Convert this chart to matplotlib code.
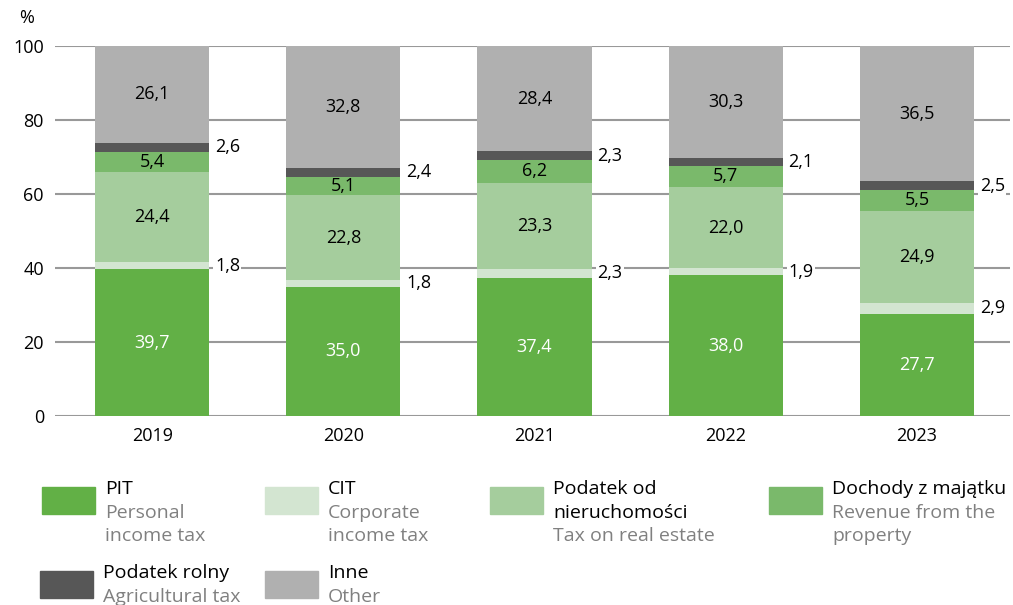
import matplotlib.pyplot as plt
from matplotlib.patches import Rectangle

plt.rcParams['font.family'] = ['Open Sans', 'DejaVu Sans']

years = ["2019", "2020", "2021", "2022", "2023"]
pit = [39.7, 35.0, 37.4, 38.0, 27.7]
cit = [1.8, 1.8, 2.3, 1.9, 2.9]
nieruch = [24.4, 22.8, 23.3, 22.0, 24.9]
majatek = [5.4, 5.1, 6.2, 5.7, 5.5]
rolny = [2.6, 2.4, 2.3, 2.1, 2.5]
inne = [26.1, 32.8, 28.4, 30.3, 36.5]

series = [pit, cit, nieruch, majatek, rolny, inne]
colors = ["#62b046", "#d3e5d1", "#a5cd9d", "#7ab96b", "#575757", "#b0b0b0"]
# where to put the value: inside (text colour) or outside right
inside = [True, False, True, True, False, True]
txtcol = ["white", None, "black", "black", None, "black"]

fig = plt.figure(figsize=(10.13, 6.05), dpi=100)
ax = fig.add_axes([55 / 1013, (605 - 416) / 605, 955 / 1013, 370 / 605])

x = list(range(len(years)))
w = 0.597
bottom = [0.0] * len(years)
for k, vals in enumerate(series):
    ax.bar(x, vals, w, bottom=bottom, color=colors[k], zorder=2)
    for i, v in enumerate(vals):
        mid = bottom[i] + v / 2
        lab = f"{v:.1f}".replace(".", ",")
        if inside[k]:
            ax.text(x[i], mid, lab, ha="center", va="center", fontsize=13,
                    color=txtcol[k], zorder=3)
        else:
            ax.text(x[i] + w / 2 + 0.03, mid, lab, ha="left", va="center",
                    fontsize=13, color="black", zorder=3,
                    bbox=dict(facecolor="white", edgecolor="none", pad=1))
    bottom = [b + v for b, v in zip(bottom, vals)]

ax.set_xlim(-0.508, 4.487)
ax.set_ylim(0, 100)
ax.set_yticks(range(0, 101, 20))
ax.set_xticks(x)
ax.set_xticklabels(years)
ax.tick_params(length=0, labelsize=13, pad=8)
ax.yaxis.grid(True, color="#999999", linewidth=1.5, zorder=0)
ax.set_axisbelow(True)
for s in ax.spines.values():
    s.set_visible(False)
fig.text(27 / 1013, 1 - 18 / 605, "%", fontsize=13, ha="center", va="center")

# legend
legend = [
    (42, 487, ["PIT"], ["Personal", "income tax"]),
    (265, 487, ["CIT"], ["Corporate", "income tax"]),
    (490, 487, ["Podatek od", "nieruchomości"], ["Tax on real estate"]),
    (769, 487, ["Dochody z majątku"], ["Revenue from the", "property"]),
    (40, 571, ["Podatek rolny"], ["Agricultural tax"]),
    (265, 571, ["Inne"], ["Other"]),
]
for k, (lx, ly, pl, en) in enumerate(legend):
    fig.patches.append(Rectangle((lx / 1013, 1 - (ly + 27) / 605), 53 / 1013, 27 / 605,
                                 transform=fig.transFigure, color=colors[k]))
    tx = (lx + 63) / 1013
    lines = [(t, "black") for t in pl] + [(t, "#808080") for t in en]
    for j, (t, c) in enumerate(lines):
        fig.text(tx, 1 - (ly + 2 + 23.5 * j) / 605, t, fontsize=14, va="center",
                 ha="left", color=c)

fig.savefig("out.png", dpi=100)
